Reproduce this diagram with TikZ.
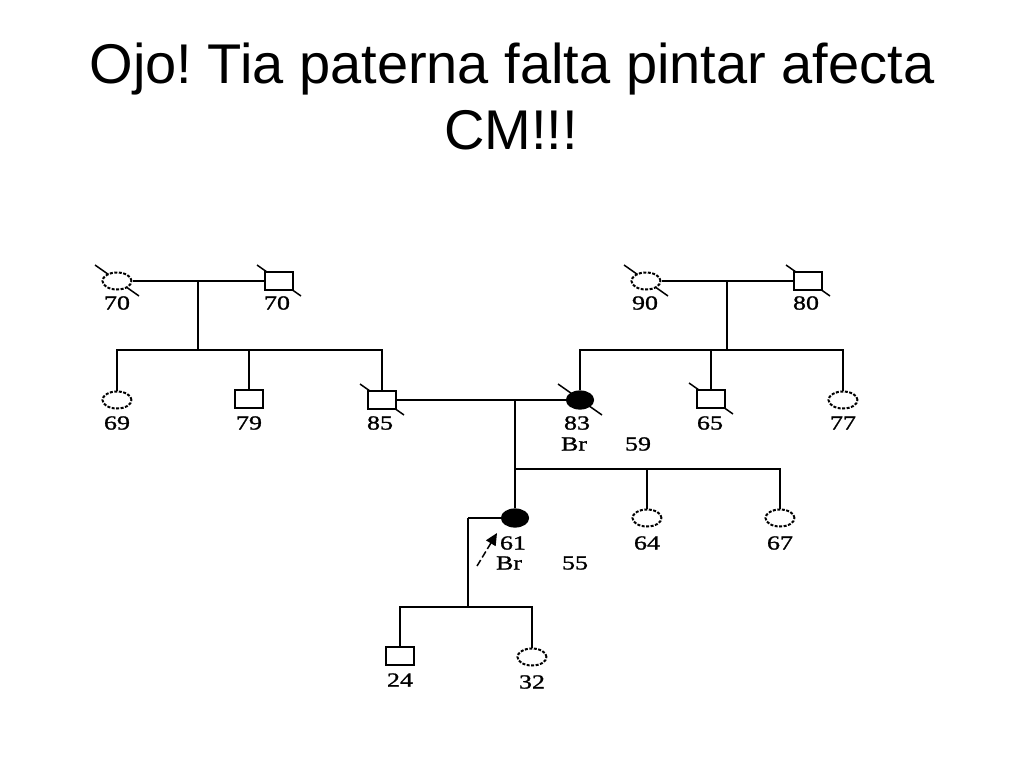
\documentclass[tikz,border=0pt]{standalone}
\usepackage{fontspec}
\usetikzlibrary{shapes.geometric,arrows.meta}
\newfontfamily\titlefont{Liberation Sans}
\newfontfamily\labfont[FakeStretch=1.3,FakeBold=1.2]{Liberation Serif}
\pgfdeclarelayer{background}
\pgfsetlayers{background,main}
\tikzset{
  sq/.style={rectangle,draw,fill=white,minimum width=28pt,minimum height=18pt,inner sep=0pt,line width=2.6pt},
  ci/.style={ellipse,draw,fill=white,minimum width=29pt,minimum height=17pt,inner sep=0pt,line width=2pt,dash pattern=on 3pt off 1.5pt},
  aff/.style={ellipse,draw,fill=black,minimum width=27pt,minimum height=18pt,inner sep=0pt,line width=1.2pt},
  lab/.style={font=\labfont\fontsize{20}{20}\selectfont,inner sep=0pt},
  ttl/.style={font=\titlefont\fontsize{56}{66}\selectfont,inner sep=0pt,anchor=base},
  ln/.style={line width=2.8pt},
  mar/.style={line width=2.2pt},
  sl/.style={line width=1.5pt}
}
\begin{document}
\begin{tikzpicture}[x=1pt,y=-1pt]
\frenchspacing
\useasboundingbox (0,0) rectangle (1024,768);
% title
\node[ttl] (t1) at (512,83) {Ojo! Tia paterna falta pintar afecta};
\node[ttl] (t2) at (511,149) {CM!!!};
% generation I
\node[ci] (c70) at (117,281) {};
\node[sq] (s70) at (279,281) {};
\node[ci] (c90) at (646,281) {};
\node[sq] (s80) at (808,281) {};
% generation II
\node[ci] (c69) at (117,400) {};
\node[sq] (s79) at (249,399) {};
\node[sq] (s85) at (382,400) {};
\node[aff] (c83) at (580,400) {};
\node[sq] (s65) at (711,399) {};
\node[ci] (c77) at (843,400) {};
% generation III
\node[aff] (c61) at (515,518) {};
\node[ci] (c64) at (647,518) {};
\node[ci] (c67) at (780,518) {};
% generation IV
\node[sq] (s24) at (400,656) {};
\node[ci] (c32) at (532,657) {};
% slashes (deceased)
\begin{pgfonlayer}{background}
\foreach \n in {c70,s70,c90,s80,s85,c83,s65}
  \draw[sl,shift={(\n.center)}] (-22,-16) -- (22,15);
\end{pgfonlayer}
% coordinates
\coordinate (m1) at (198,281);
\coordinate (d1) at (198,350);
\coordinate (m2) at (727,281);
\coordinate (d2) at (727,350);
\coordinate (m3) at (515,400);
\coordinate (d3) at (515,469);
\coordinate (m4) at (468,518);
\coordinate (d4) at (468,607);
% left family
\draw[mar] (c70.east) -- (s70.west);
\draw[ln] (m1) -- (d1);
\draw[ln] (d1) -| (c69.north);
\draw[ln] (d1) -| (s85.north);
\draw[ln] (s79.north) -- (s79.north |- d1);
% right family
\draw[mar] (c90.east) -- (s80.west);
\draw[ln] (m2) -- (d2);
\draw[ln] (d2) -| (c83.north);
\draw[ln] (d2) -| (c77.north);
\draw[ln] (s65.north) -- (s65.north |- d2);
% middle couple
\draw[mar] (s85.east) -- (c83.west);
\draw[ln] (m3) -- (d3) -- (c61.north);
\draw[ln] (d3) -| (c67.north);
\draw[ln] (c64.north) -- (c64.north |- d3);
% proband couple
\draw[mar] (c61.west) -- (m4);
\draw[ln] (m4) -- (d4);
\draw[ln] (d4) -| (s24.north);
\draw[ln] (d4) -| (c32.north);
% proband arrow
\coordinate (pa) at (477,566);
\coordinate (pb) at (497,533);
\draw[line width=1.5pt,dash pattern=on 7pt off 3pt,-{Triangle[length=12pt,width=11pt]}] (pa) -- (pb);
% labels
\node[lab] (l70a) at (117,303) {70};
\node[lab] (l70b) at (277,303) {70};
\node[lab] (l90) at (645,303) {90};
\node[lab] (l80) at (806,303) {80};
\node[lab] (l69) at (117,423) {69};
\node[lab] (l79) at (249,423) {79};
\node[lab] (l85) at (380,423) {85};
\node[lab] (l83) at (577,423) {83};
\node[lab] (lbr1) at (574,444) {Br};
\node[lab] (l59) at (638,444) {59};
\node[lab] (l65) at (710,423) {65};
\node[lab] (l77) at (843,423) {77};
\node[lab] (l61) at (513,543) {61};
\node[lab] (lbr2) at (509,563) {Br};
\node[lab] (l55) at (575,563) {55};
\node[lab] (l64) at (647,543) {64};
\node[lab] (l67) at (780,543) {67};
\node[lab] (l24) at (400,680) {24};
\node[lab] (l32) at (532,682) {32};
\end{tikzpicture}
\end{document}
